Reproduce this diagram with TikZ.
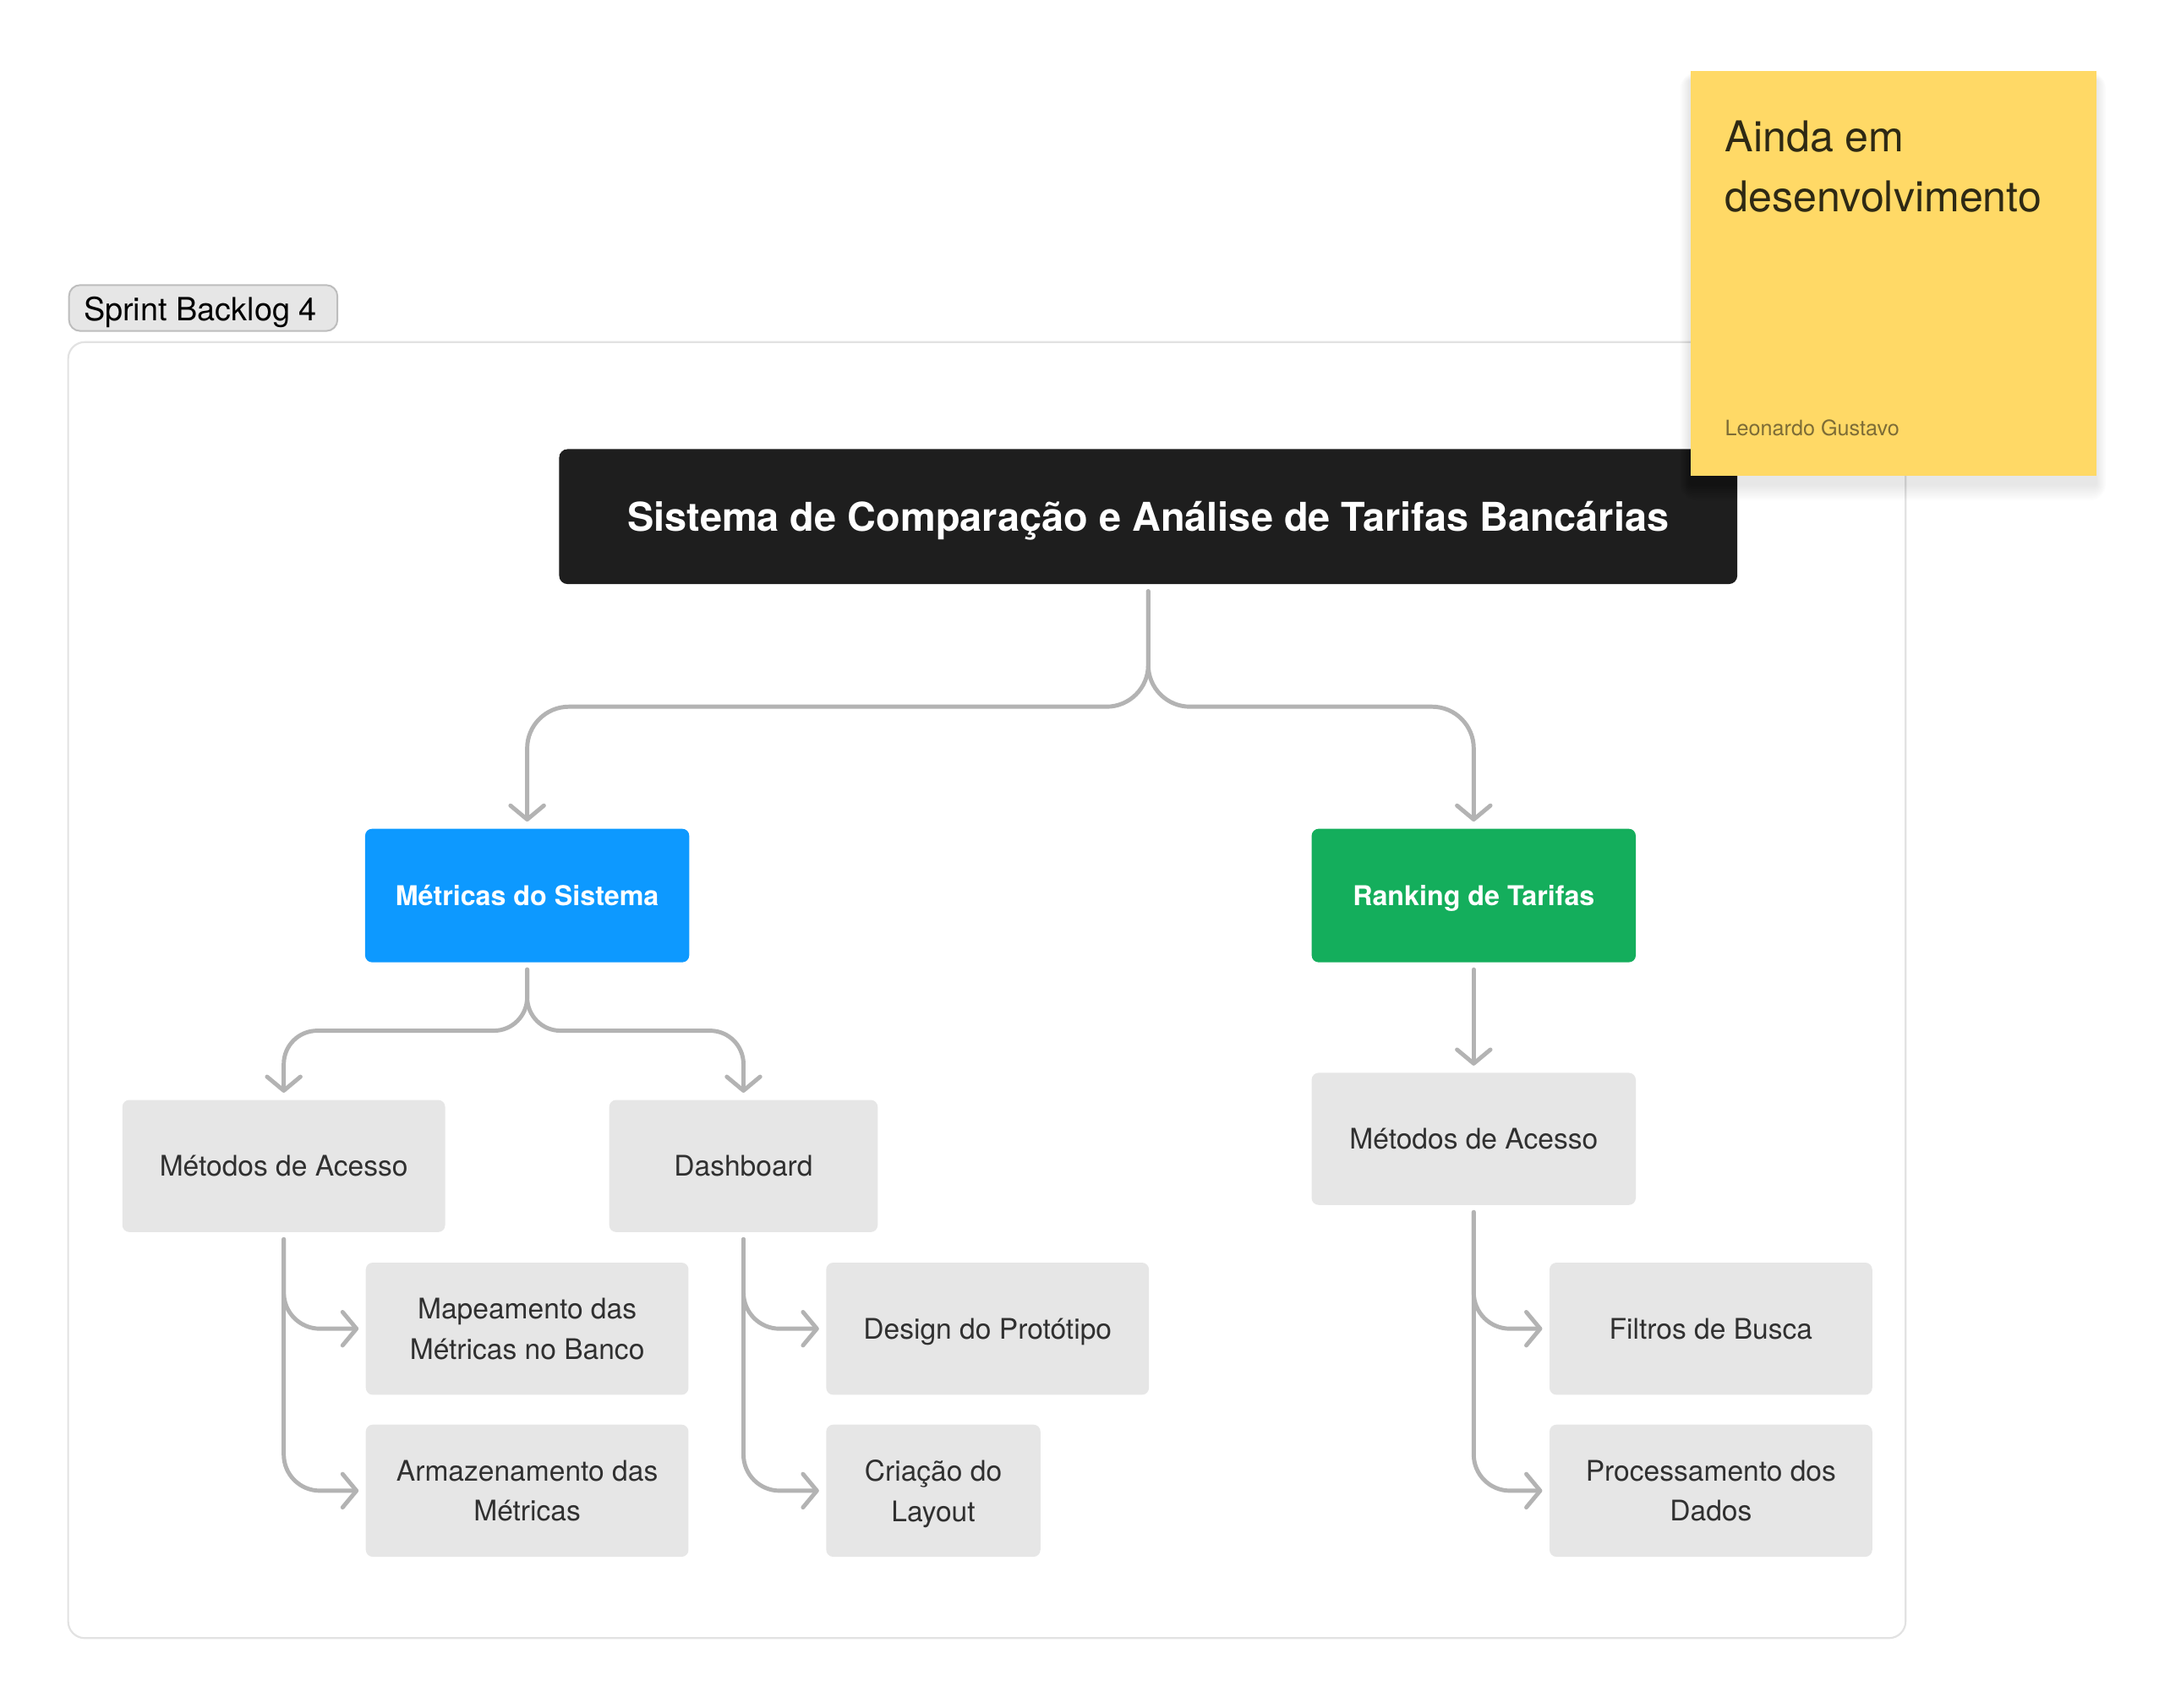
\documentclass[tikz,border=0pt]{standalone}
\usepackage{fontspec}
\setmainfont{TeX Gyre Heros}
\usetikzlibrary{arrows.meta}
\definecolor{boxgray}{HTML}{E6E6E6}
\definecolor{textgray}{HTML}{303030}
\definecolor{linegray}{HTML}{B3B3B3}
\definecolor{figblue}{HTML}{0D99FF}
\definecolor{figgreen}{HTML}{14AE5C}
\definecolor{figdark}{HTML}{1E1E1E}
\definecolor{stickyyellow}{HTML}{FFD966}
\definecolor{stickytext}{HTML}{2E2914}
\definecolor{authortext}{HTML}{7D6C36}
\definecolor{framegray}{HTML}{E2E2E2}
\definecolor{labelborder}{HTML}{BDBDBD}
\tikzset{
  box/.style={rectangle, rounded corners=5pt, inner sep=0pt, align=center,
    fill=boxgray, text=textgray, minimum width=232pt, minimum height=95pt,
    text depth=0pt, font=\fontsize{20.4}{29}\selectfont},
  colbox/.style={rectangle, rounded corners=5pt, inner sep=0pt, align=center,
    text=white, minimum width=233pt, minimum height=96pt, text depth=0pt,
    font=\bfseries\fontsize{19.6}{24}\selectfont},
  conn/.style={draw=linegray, line width=3pt, line cap=round, line join=round,
    -{Straight Barb[length=10pt,width=24pt,round]}},
}
\begin{document}
\begin{tikzpicture}[x=1pt,y=-1pt]
\useasboundingbox[fill=white] (0,0) rectangle (1568,1228);

% frame
\draw[framegray, line width=1.3pt, rounded corners=12pt] (49,246) rectangle (1370,1178);

% sprint label
\node[draw=labelborder, line width=1.2pt, fill=boxgray, rounded corners=8pt,
  anchor=west, inner sep=0pt, minimum width=193pt, minimum height=33pt] (sprint) at (49,221.5) {};
\node[anchor=base west, inner sep=0pt, font=\fontsize{23}{27}\selectfont, text=black]
  (sprinttext) at (60,230.5) {Sprint Backlog 4};

% title
\node[fill=figdark, rounded corners=6pt, inner sep=0pt, minimum width=847pt,
  minimum height=97pt, text=white, text depth=0pt, font=\bfseries\fontsize{28.5}{34}\selectfont]
  (title) at (825.5,371.5) {Sistema de Comparação e Análise de Tarifas Bancárias};

% level 1
\node[colbox, fill=figblue] (met) at (379,644) {Métricas do Sistema};
\node[colbox, fill=figgreen] (rank) at (1059.5,644) {Ranking de Tarifas};

% level 2
\node[box] (mal) at (204,838.5) {Métodos de Acesso};
\node[box, minimum width=193pt] (dash) at (534.5,838.5) {Dashboard};
\node[box, minimum width=233pt] (mar) at (1059.5,819) {Métodos de Acesso};

% level 3
\node[box] (map) at (379,955.5) {Mapeamento das\\Métricas no Banco};
\node[box] (arm) at (379,1072) {Armazenamento das\\Métricas};
\node[box] (des) at (710,955.5) {Design do Protótipo};
\node[box, minimum width=154pt] (cri) at (671,1072) {Criação do\\Layout};
\node[box] (fil) at (1230,955.5) {Filtros de Busca};
\node[box] (pro) at (1230,1072) {Processamento dos\\Dados};

% connectors
\draw[conn, rounded corners=30pt] ([yshift=-5pt]title.south) -- ++(0,83) -| ([yshift=5pt]met.north);
\draw[conn, rounded corners=30pt] ([yshift=-5pt]title.south) -- ++(0,83) -| ([yshift=5pt]rank.north);
\draw[conn, rounded corners=24pt] ([yshift=-5pt]met.south) -- ++(0,44) -| ([yshift=5pt]mal.north);
\draw[conn, rounded corners=24pt] ([yshift=-5pt]met.south) -- ++(0,44) -| ([yshift=5pt]dash.north);
\draw[conn] ([yshift=-5pt]rank.south) -- ([yshift=5pt]mar.north);
\draw[conn, rounded corners=26pt] ([yshift=-5pt]mal.south) |- ([xshift=-5pt]map.west);
\draw[conn, rounded corners=26pt] ([yshift=-5pt]mal.south) |- ([xshift=-5pt]arm.west);
\draw[conn, rounded corners=26pt] ([yshift=-5pt]dash.south) |- ([xshift=-5pt]des.west);
\draw[conn, rounded corners=26pt] ([yshift=-5pt]dash.south) |- ([xshift=-5pt]cri.west);
\draw[conn, rounded corners=26pt] ([yshift=-5pt]mar.south) |- ([xshift=-5pt]fil.west);
\draw[conn, rounded corners=26pt] ([yshift=-5pt]mar.south) |- ([xshift=-5pt]pro.west);

% sticky note shadow
\foreach \i in {1,...,12} {
  \fill[black, opacity=0.009, rounded corners=\i pt] ({1215-0.6*\i},{58-0.5*\i}) rectangle ({1507+0.6*\i},{348+\i});
}
% sticky note
\node[fill=stickyyellow, inner sep=0pt, minimum width=292pt, minimum height=291pt,
  anchor=north west] (sticky) at (1215,51) {};
\node[anchor=base west, inner sep=0pt, text=stickytext, font=\fontsize{30.5}{43}\selectfont]
  (st1) at (1240,109) {Ainda em};
\node[anchor=base west, inner sep=0pt, text=stickytext, font=\fontsize{30.5}{43}\selectfont]
  (st2) at (1240,152) {desenvolvimento};
\node[anchor=base west, inner sep=0pt, text=authortext, font=\fontsize{15.3}{18}\selectfont]
  (author) at (1240,313) {Leonardo Gustavo};
\end{tikzpicture}
\end{document}
